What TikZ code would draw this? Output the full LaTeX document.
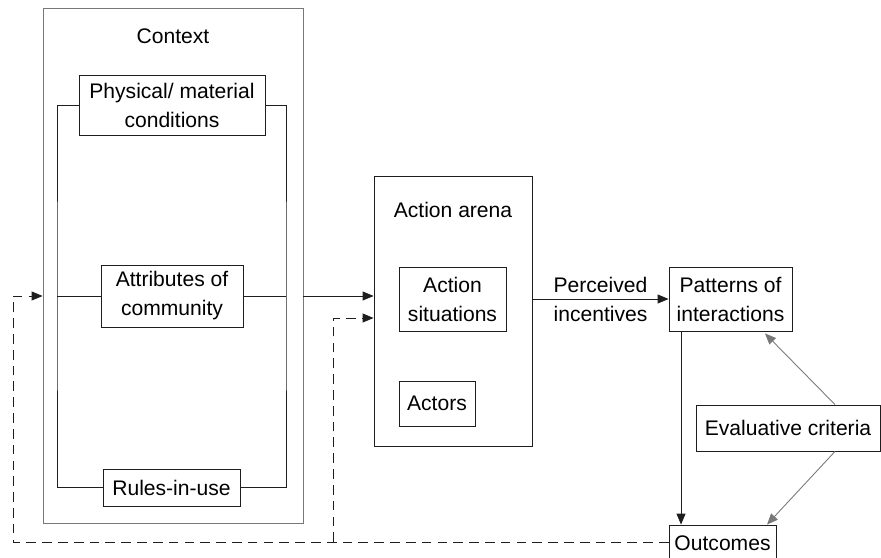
\documentclass[tikz,border=0pt]{standalone}
\usepackage{fontspec}
\setmainfont{Liberation Sans}
\usetikzlibrary{arrows.meta}
\definecolor{c1}{RGB}{30,30,30}
\definecolor{c2}{RGB}{120,120,120}

\begin{document}
\begin{tikzpicture}[x=0.02cm,y=-0.02cm,
    box/.style={draw=c1,line width=0.5pt,inner sep=0pt,align=center,font=\fontsize{12}{16.5}\selectfont},
    txt/.style={inner sep=0pt,align=center,font=\fontsize{12}{16.5}\selectfont},
    arr/.style={-{Triangle[length=0.22cm,width=0.18cm]},line width=0.5pt,draw=c1}]
    \clip (0,0) rectangle (881,557);
    \begin{scope} %context
        \node[box,draw=c2,minimum width=5.2cm,minimum height=10.3cm] (context) at (173,265.5) {};
        \node[txt] (contexttitle) at (173,36) {Context};
        \node[box,minimum width=3.72cm,minimum height=1.2cm] (phys) at (172,105) {Physical/ material\\conditions};
        \node[box,minimum width=2.84cm,minimum height=1.24cm] (attr) at (172,296) {Attributes of\\community};
        \node[box,minimum width=2.74cm,minimum height=0.74cm] (rules) at (171.5,487.5) {Rules-in-use};
        % the frame that ties the three boxes together
        \coordinate (fl) at (57,296);
        \coordinate (fr) at (286,296);
        \draw[c1,line width=0.5pt] (phys.west) -| (fl) |- (rules.west);
        \draw[c1,line width=0.5pt] (phys.east) -| (fr) |- (rules.east);
        \draw[c1,line width=0.5pt] (fl) -- (attr.west) (attr.east) -- (fr);
    \end{scope}
    \begin{scope} %action arena
        \node[box,minimum width=3.16cm,minimum height=5.4cm] (arena) at (453,311) {};
        \node[txt] (arenatitle) at (453,210) {Action arena};
        \node[box,minimum width=2.14cm,minimum height=1.28cm] (sit) at (452.5,299) {Action\\situations};
        \node[box,minimum width=1.52cm,minimum height=0.9cm] (actors) at (437,403.5) {Actors};
    \end{scope}
    \begin{scope} %patterns, criteria, outcomes
        \node[box,minimum width=2.46cm,minimum height=1.28cm] (patterns) at (730.5,299) {Patterns of\\interactions};
        \node[box,minimum width=3.68cm,minimum height=0.92cm] (eval) at (788,428) {Evaluative criteria};
        \node[box,minimum width=2.14cm,minimum height=0.72cm] (outcomes) at (722.5,543) {Outcomes};
    \end{scope}
    % arrows
    \draw[arr] (context.east |- attr.east) -- (arena.west |- attr.east);
    \draw[arr] (arena.east |- patterns.west) -- (patterns.west) node[txt,midway] (incent) {Perceived\\incentives};
    \draw[arr] ([xshift=-0.99cm]patterns.south) -- ([xshift=-0.99cm]patterns.south |- outcomes.north);
    \draw[arr,draw=c2] ([xshift=0.94cm]eval.north) -- ([xshift=0.69cm,yshift=-0.04cm]patterns.south);
    \draw[arr,draw=c2] ([xshift=0.94cm]eval.south) -- ([xshift=0.89cm]outcomes.north);
    % feedback from the outcomes, dashed
    \coordinate (fbl) at (13,296);
    \coordinate (fbm) at (333,542);
    \coordinate (arenain) at (arena.west |- 0,318);
    \draw[arr,dash pattern=on 5.5pt off 3.5pt] (outcomes.west |- fbm) -| (fbl) -- (context.west |- fbl);
    \draw[arr,dash pattern=on 5.5pt off 3.5pt] (fbm) |- (arenain);
\end{tikzpicture}
\end{document}
